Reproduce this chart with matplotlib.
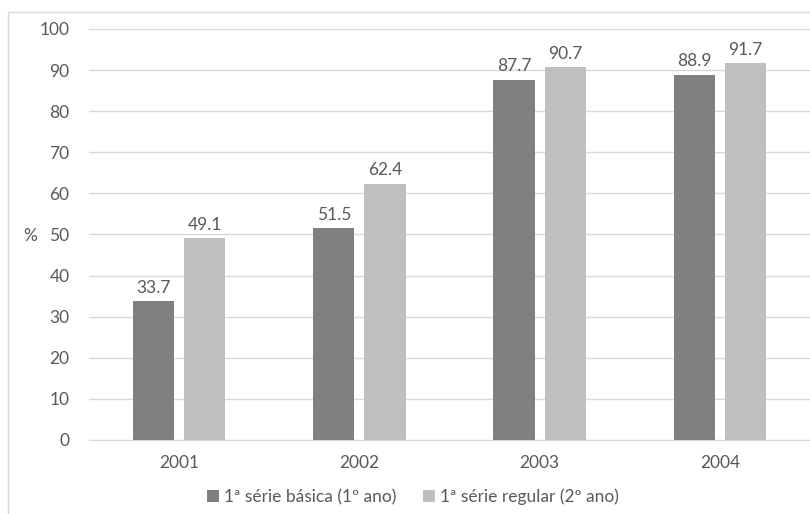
import matplotlib.pyplot as plt
import matplotlib.patches as patches
import numpy as np

plt.rcParams['font.family'] = ['Lato', 'DejaVu Sans']

anos = ['2001', '2002', '2003', '2004']
basica = [33.7, 51.5, 87.7, 88.9]
regular = [49.1, 62.4, 90.7, 91.7]

cor_escura = '#808080'
cor_clara = '#bfbfbf'
cor_texto = '#595959'
cor_grade = '#d9d9d9'

fig = plt.figure(figsize=(8.1, 5.14), dpi=100)
ax = fig.add_axes([89/810, 1 - 440/514, 1 - 89/810, (440 - 29)/514])

# moldura do gráfico
fig.patches.append(patches.Rectangle((8/810, -0.05), 1.0, 1 - 12/514 + 0.05,
                                     transform=fig.transFigure, fill=False,
                                     edgecolor=cor_grade, linewidth=1.0))

x = np.arange(len(anos))
w = 0.228
d = 0.142
b1 = ax.bar(x - d, basica, w, color=cor_escura, label='1ª série básica (1º ano)', zorder=3)
b2 = ax.bar(x + d, regular, w, color=cor_clara, label='1ª série regular (2º ano)', zorder=3)

for barras in (b1, b2):
    for r in barras:
        ax.annotate(f'{r.get_height():.1f}', (r.get_x() + r.get_width()/2, r.get_height()),
                    xytext=(0, 4), textcoords='offset points', ha='center', va='bottom',
                    fontsize=12.5, color=cor_texto)

ax.set_xlim(-0.5, 3.5)
ax.set_ylim(0, 100)
ax.set_yticks(range(0, 101, 10))
ax.set_xticks(x)
ax.set_xticklabels(anos)
ax.yaxis.grid(True, color=cor_grade, linewidth=1.0, zorder=0)
ax.tick_params(length=0, labelsize=12.5, labelcolor=cor_texto)
ax.tick_params(axis='y', pad=14)
ax.tick_params(axis='x', pad=11)
for s in ['top', 'right', 'left']:
    ax.spines[s].set_visible(False)
ax.spines['bottom'].set_color(cor_grade)

fig.text(23/810, 1 - 236/514, '%', fontsize=12.5, color=cor_texto, ha='left', va='center')

fig.legend(handles=[b1, b2], loc='center', bbox_to_anchor=(0.51, 1 - 497/514), ncol=2,
           frameon=False, fontsize=12.5, labelcolor=cor_texto, handlelength=0.7,
           handleheight=0.7, handletextpad=0.3, columnspacing=1.5)

fig.savefig('out.png', dpi=100)
